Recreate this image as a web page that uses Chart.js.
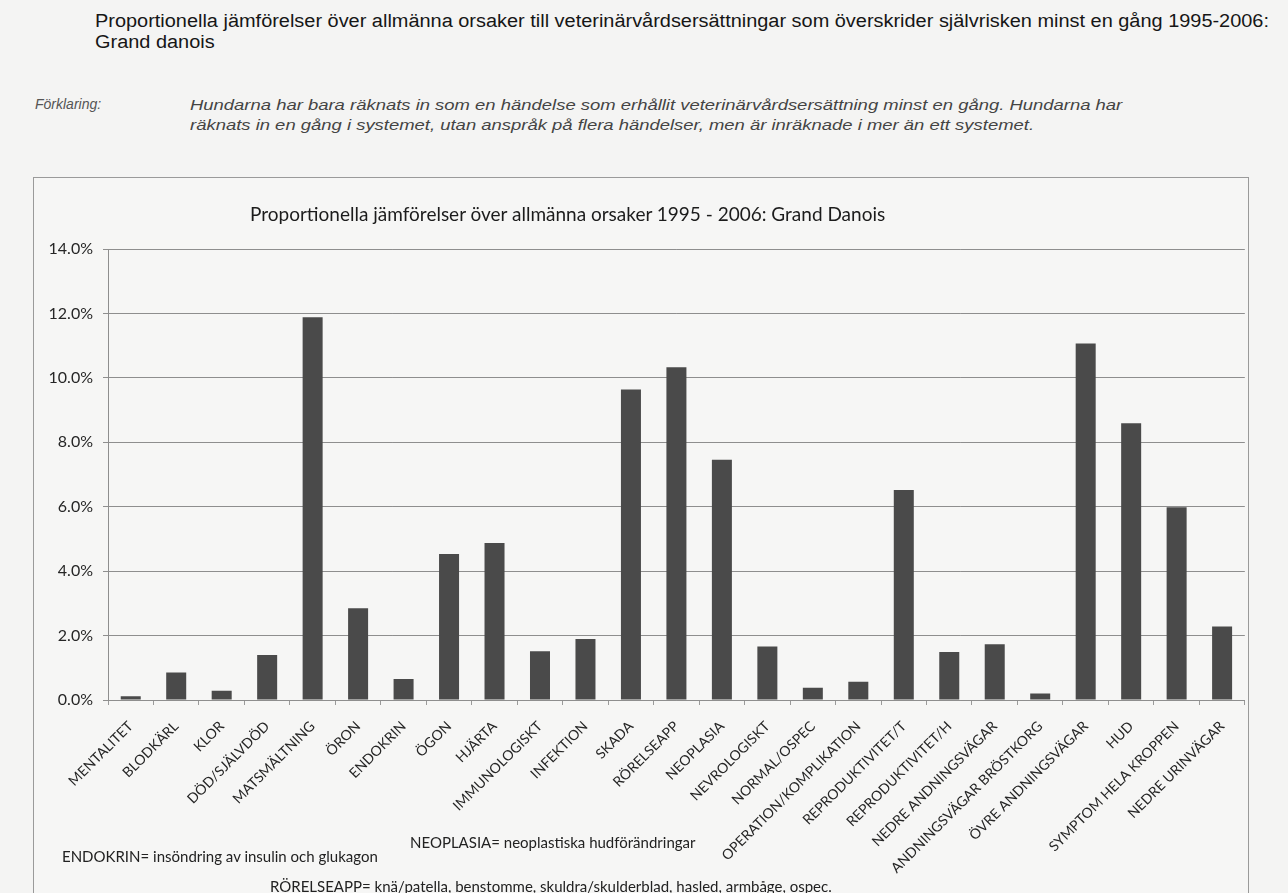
<!DOCTYPE html>
<html>
<head>
<meta charset="utf-8">
<script src="https://cdn.jsdelivr.net/npm/chart.js@4"></script>
<style>
  html, body { margin: 0; padding: 0; }
  body { width: 1288px; height: 893px; background: #f4f4f3; position: relative; overflow: hidden; }
  .abs { position: absolute; white-space: nowrap; }
  #head { left: 95px; top: 11px; font: 18px "Liberation Sans", Arial, sans-serif; color: #161616; line-height: 21px;
          transform: scaleX(1.107); transform-origin: 0 0; }
  #forkl { left: 35px; top: 96px; font: italic 14px "Liberation Sans", Arial, sans-serif; color: #555; }
  #forkltext { left: 190px; top: 95px; font: italic 15px "Liberation Sans", Arial, sans-serif; color: #444; line-height: 20px;
               transform: scaleX(1.23); transform-origin: 0 0; }
  #box { left: 33px; top: 177px; width: 1214px; height: 760px; border: 1.5px solid #9a9a9a; background: #f6f6f5; }
  #wrap { left: 34px; top: 178px; width: 1213px; height: 715px; }
  #ctitle { left: 250px; top: 202px; font: 19px Lato, sans-serif; color: #1c1c1c; }
  .note { font: 15px Lato, sans-serif; color: #222; }
</style>
</head>
<body>
<div class="abs" id="head">Proportionella jämförelser över allmänna orsaker till veterinärvårdsersättningar som överskrider självrisken minst en gång 1995-2006:<br>Grand danois</div>
<div class="abs" id="forkl">Förklaring:</div>
<div class="abs" id="forkltext">Hundarna har bara räknats in som en händelse som erhållit veterinärvårdsersättning minst en gång. Hundarna har<br>räknats in en gång i systemet, utan anspråk på flera händelser, men är inräknade i mer än ett systemet.</div>
<div class="abs" id="box"></div>
<div class="abs" id="wrap"><canvas id="chart" width="1213" height="715"></canvas></div>
<div class="abs" id="ctitle">Proportionella jämförelser över allmänna orsaker 1995 - 2006: Grand Danois</div>
<div class="abs note" style="left:410px; top:833px;">NEOPLASIA= neoplastiska hudförändringar</div>
<div class="abs note" style="left:62px; top:847px;">ENDOKRIN= insöndring av insulin och glukagon</div>
<div class="abs note" style="left:270px; top:877px;">RÖRELSEAPP= knä/patella, benstomme, skuldra/skulderblad, hasled, armbåge, ospec.</div>
<script>
const categories = [
  'MENTALITET', 'BLODKÄRL', 'KLOR', 'DÖD/SJÄLVDÖD', 'MATSMÄLTNING', 'ÖRON',
  'ENDOKRIN', 'ÖGON', 'HJÄRTA', 'IMMUNOLOGISKT', 'INFEKTION', 'SKADA',
  'RÖRELSEAPP', 'NEOPLASIA', 'NEVROLOGISKT', 'NORMAL/OSPEC',
  'OPERATION/KOMPLIKATION', 'REPRODUKTIVITET/T', 'REPRODUKTIVITET/H',
  'NEDRE ANDNINGSVÄGAR', 'ANDNINGSVÄGAR BRÖSTKORG', 'ÖVRE ANDNINGSVÄGAR',
  'HUD', 'SYMPTOM HELA KROPPEN', 'NEDRE URINVÄGAR'
];
// percent of dogs
const shares = [
  0.12, 0.85, 0.29, 1.40, 11.88, 2.85,
  0.65, 4.53, 4.87, 1.51, 1.89, 9.64,
  10.33, 7.46, 1.66, 0.38,
  0.57, 6.52, 1.49,
  1.73, 0.20, 11.07,
  8.59, 5.98, 2.28
];
const yTicks = [0, 2, 4, 6, 8, 10, 12, 14];

const gridGray = '#8e8e8e';

new Chart(document.getElementById('chart'), {
  type: 'bar',
  data: {
    labels: categories,
    datasets: [{
      data: shares,
      backgroundColor: '#4a4a4a',
      borderWidth: 0,
      categoryPercentage: 1,
      barPercentage: 0.44
    }]
  },
  options: {
    responsive: false,
    animation: false,
    layout: { padding: { top: 71, right: 1, left: 0, bottom: 0 } },
    plugins: { legend: { display: false }, tooltip: { enabled: false } },
    scales: {
      x: {
        afterFit: s => { s.height = 193; },
        grid: { offset: true, drawOnChartArea: false, tickLength: 5, color: '#9a9a9a' },
        border: { color: gridGray },
        ticks: {
          minRotation: 45, maxRotation: 45, autoSkip: false, padding: 13,
          color: '#262626', font: { family: 'Lato', size: 14 }
        }
      },
      y: {
        min: yTicks[0], max: yTicks[yTicks.length - 1],
        afterFit: s => { s.width = 74; },
        afterBuildTicks: s => { s.ticks = yTicks.map(v => ({ value: v })); },
        grid: { color: gridGray, tickLength: 5 },
        border: { color: gridGray },
        ticks: {
          padding: 10, color: '#262626',
          font: { family: 'Lato', size: 16 },
          callback: v => v.toFixed(1) + '%'
        }
      }
    }
  }
});
</script>
</body>
</html>
